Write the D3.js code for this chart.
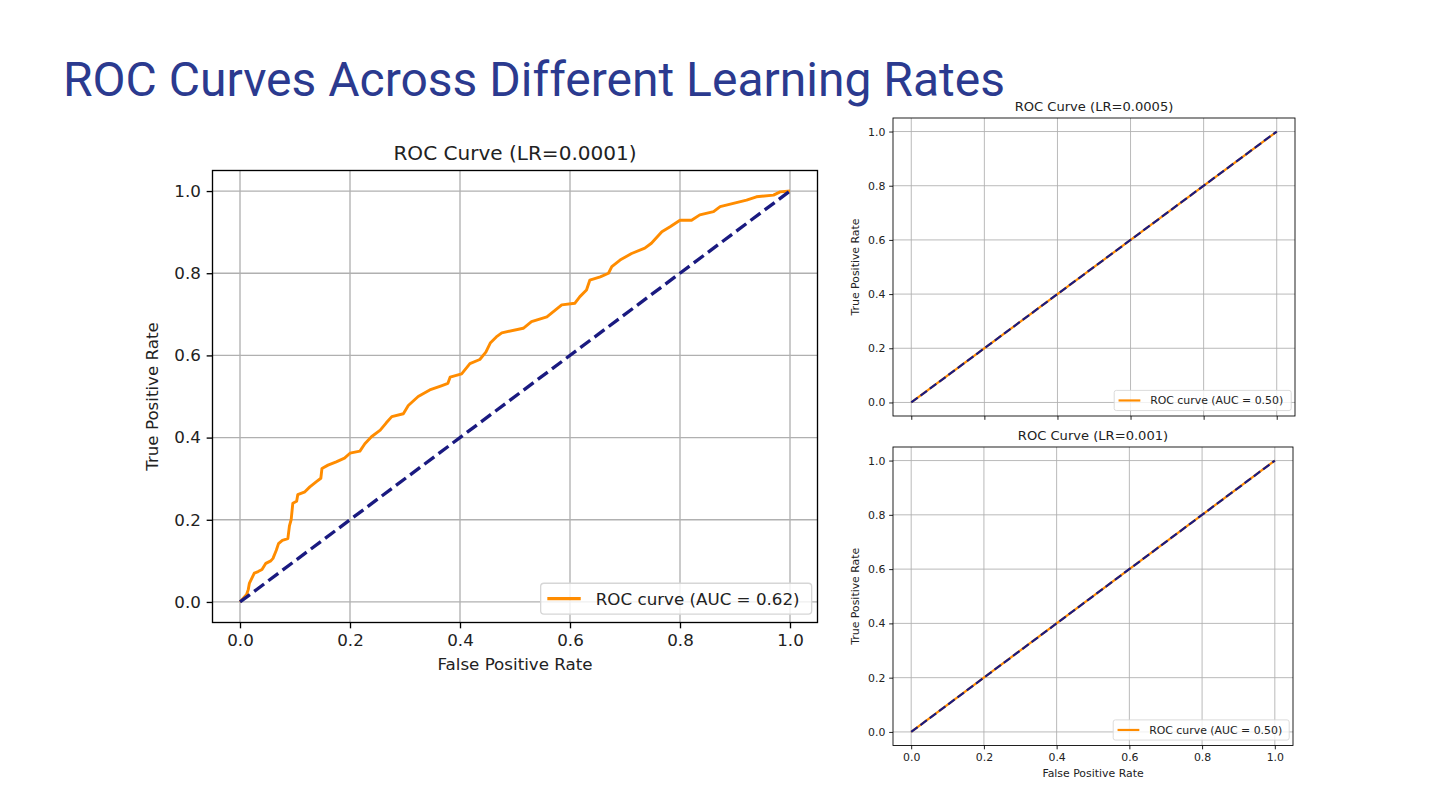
<!DOCTYPE html>
<html>
<head>
<meta charset="utf-8">
<script src="https://cdn.jsdelivr.net/npm/d3@7"></script>
<style>
  body { margin: 0; background: #fff; }
  svg { display: block; }
</style>
</head>
<body>
<div id="slide"></div>
<script>
// ROC points, LR=0.0001
const fpr1 = [0, 0.012, 0.015, 0.017, 0.026, 0.033, 0.04, 0.047, 0.056, 0.06, 0.066, 0.07, 0.077, 0.087, 0.09, 0.093,
    0.096, 0.103, 0.105, 0.118, 0.127, 0.139, 0.147, 0.149, 0.16, 0.175, 0.19, 0.2, 0.218, 0.227, 0.239, 0.255,
    0.266, 0.276, 0.297, 0.306, 0.324, 0.345, 0.366, 0.378, 0.382, 0.403, 0.418, 0.436, 0.447, 0.455, 0.466, 0.476,
    0.515, 0.53, 0.558, 0.585, 0.609, 0.618, 0.63, 0.636, 0.655, 0.67, 0.676, 0.691, 0.712, 0.736, 0.748, 0.767,
    0.782, 0.8, 0.821, 0.836, 0.861, 0.873, 0.897, 0.921, 0.939, 0.97, 0.982, 1];
const tpr1 = [0, 0.018, 0.03, 0.045, 0.07, 0.074, 0.079, 0.094, 0.1, 0.106, 0.126, 0.142, 0.15, 0.154, 0.186, 0.2,
    0.24, 0.245, 0.261, 0.268, 0.28, 0.293, 0.301, 0.325, 0.333, 0.341, 0.35, 0.362, 0.367, 0.385, 0.402, 0.418,
    0.436, 0.451, 0.458, 0.478, 0.5, 0.516, 0.526, 0.532, 0.547, 0.555, 0.58, 0.59, 0.608, 0.63, 0.645, 0.655,
    0.666, 0.682, 0.694, 0.723, 0.727, 0.743, 0.759, 0.783, 0.791, 0.8, 0.816, 0.832, 0.848, 0.861, 0.873, 0.901,
    0.913, 0.929, 0.929, 0.942, 0.95, 0.962, 0.97, 0.978, 0.986, 0.99, 0.998, 1];

// LR=0.0005 and LR=0.001 collapse onto the diagonal
const fpr2 = [0, 1];
const tpr2 = [0, 1];
const fpr3 = [0, 1];
const tpr3 = [0, 1];

const chanceLine = [0, 1];
const tickValues = [0, 0.2, 0.4, 0.6, 0.8, 1.0];

const panelTitles = ["ROC Curve (LR=0.0001)", "ROC Curve (LR=0.0005)", "ROC Curve (LR=0.001)"];
const legendLabels = ["ROC curve (AUC = 0.62)", "ROC curve (AUC = 0.50)", "ROC curve (AUC = 0.50)"];

const orange = "#ff8c00";
const navy = "#1a1a80";
const font = "DejaVu Sans";

const svg = d3.select("#slide").append("svg")
    .attr("width", 1440)
    .attr("height", 810);

svg.append("text")
    .attr("x", 63)
    .attr("y", 96)
    .attr("font-family", "Roboto")
    .attr("font-size", 48)
    .attr("fill", "#2b3a8f")
    .text("ROC Curves Across Different Learning Rates");

// one matplotlib-like axes; s = pixels per point
function drawPanel(o) {
    const s = o.s;
    const g = svg.append("g").attr("transform", `translate(${o.left},${o.top})`);

    const x = d3.scaleLinear().domain([-0.05, 1.05]).range([0, o.width]);
    const y = d3.scaleLinear().domain([-0.05, 1.05]).range([o.height, 0]);

    // grid
    g.append("g").selectAll("line.gx")
        .data(tickValues).enter().append("line")
        .attr("x1", d => x(d)).attr("x2", d => x(d))
        .attr("y1", 0).attr("y2", o.height)
        .attr("stroke", "#b0b0b0").attr("stroke-width", 0.8 * s);
    g.append("g").selectAll("line.gy")
        .data(tickValues).enter().append("line")
        .attr("y1", d => y(d)).attr("y2", d => y(d))
        .attr("x1", 0).attr("x2", o.width)
        .attr("stroke", "#b0b0b0").attr("stroke-width", 0.8 * s);

    const line = d3.line().x(d => x(d[0])).y(d => y(d[1]));

    g.append("path")
        .datum(d3.zip(o.fpr, o.tpr))
        .attr("fill", "none")
        .attr("stroke", orange)
        .attr("stroke-width", o.curveWidth)
        .attr("stroke-linejoin", "round")
        .attr("d", line);

    g.append("path")
        .datum(d3.zip(chanceLine, chanceLine))
        .attr("fill", "none")
        .attr("stroke", navy)
        .attr("stroke-width", 2 * s)
        .attr("stroke-dasharray", `${3.7 * 2 * s},${1.6 * 2 * s}`)
        .attr("d", line);

    // spines
    g.append("rect")
        .attr("width", o.width).attr("height", o.height)
        .attr("fill", "none").attr("stroke", "#000").attr("stroke-width", 0.8 * s);

    const fs = 10 * s;
    const xAxis = d3.axisBottom(x).tickValues(tickValues)
        .tickSize(3.5 * s).tickPadding(3.5 * s)
        .tickFormat(o.xLabels ? d3.format(".1f") : "");
    const yAxis = d3.axisLeft(y).tickValues(tickValues)
        .tickSize(3.5 * s).tickPadding(3.5 * s)
        .tickFormat(d3.format(".1f"));

    const gx = g.append("g").attr("transform", `translate(0,${o.height})`).call(xAxis);
    const gy = g.append("g").call(yAxis);
    [gx, gy].forEach(a => {
        a.select(".domain").remove();
        a.selectAll(".tick line").attr("stroke", "#000").attr("stroke-width", 0.8 * s);
        a.selectAll(".tick text").attr("font-family", font).attr("font-size", fs).attr("fill", "#222");
    });

    g.append("text")
        .attr("x", o.width / 2).attr("y", -6 * s)
        .attr("text-anchor", "middle")
        .attr("font-family", font).attr("font-size", 12 * s).attr("fill", "#222")
        .text(o.title);

    if (o.xLabels) {
        g.append("text")
            .attr("x", o.width / 2).attr("y", o.height + 3.5 * s + 3.5 * s + fs + 3.5 * s + fs * 0.8)
            .attr("text-anchor", "middle")
            .attr("font-family", font).attr("font-size", fs).attr("fill", "#222")
            .text("False Positive Rate");
    }

    g.append("text")
        .attr("transform", `translate(${-o.yLabelOffset},${o.height / 2}) rotate(-90)`)
        .attr("text-anchor", "middle")
        .attr("font-family", font).attr("font-size", fs).attr("fill", "#222")
        .text("True Positive Rate");

    // legend, lower right
    const lw = o.legendWidth, lh = 1.85 * fs;
    const lg = g.append("g")
        .attr("transform", `translate(${o.width - lw - 0.35 * fs},${o.height - lh - 0.5 * fs})`);
    lg.append("rect")
        .attr("width", lw).attr("height", lh)
        .attr("rx", 0.2 * fs).attr("ry", 0.2 * fs)
        .attr("fill", "#fff").attr("fill-opacity", 0.8)
        .attr("stroke", "#d6d6d6").attr("stroke-width", 0.8 * s);
    lg.append("line")
        .attr("x1", 0.4 * fs).attr("x2", 2.4 * fs)
        .attr("y1", lh / 2).attr("y2", lh / 2)
        .attr("stroke", orange).attr("stroke-width", 2 * s);
    lg.append("text")
        .attr("x", 3.3 * fs).attr("y", lh / 2 + fs * 0.36)
        .attr("font-family", font).attr("font-size", fs).attr("fill", "#222")
        .text(o.legend);
}

drawPanel({
    left: 212.5, top: 170.5, width: 605, height: 452, s: 1.67, curveWidth: 2.9,
    fpr: fpr1, tpr: tpr1, title: panelTitles[0], legend: legendLabels[0],
    xLabels: true, yLabelOffset: 55, legendWidth: 271
});

drawPanel({
    left: 893, top: 118, width: 402, height: 298, s: 1.09, curveWidth: 2.2,
    fpr: fpr2, tpr: tpr2, title: panelTitles[1], legend: legendLabels[1],
    xLabels: false, yLabelOffset: 34, legendWidth: 177
});

drawPanel({
    left: 893, top: 447, width: 400, height: 298.5, s: 1.09, curveWidth: 2.2,
    fpr: fpr3, tpr: tpr3, title: panelTitles[2], legend: legendLabels[2],
    xLabels: true, yLabelOffset: 34, legendWidth: 176
});
</script>
</body>
</html>
